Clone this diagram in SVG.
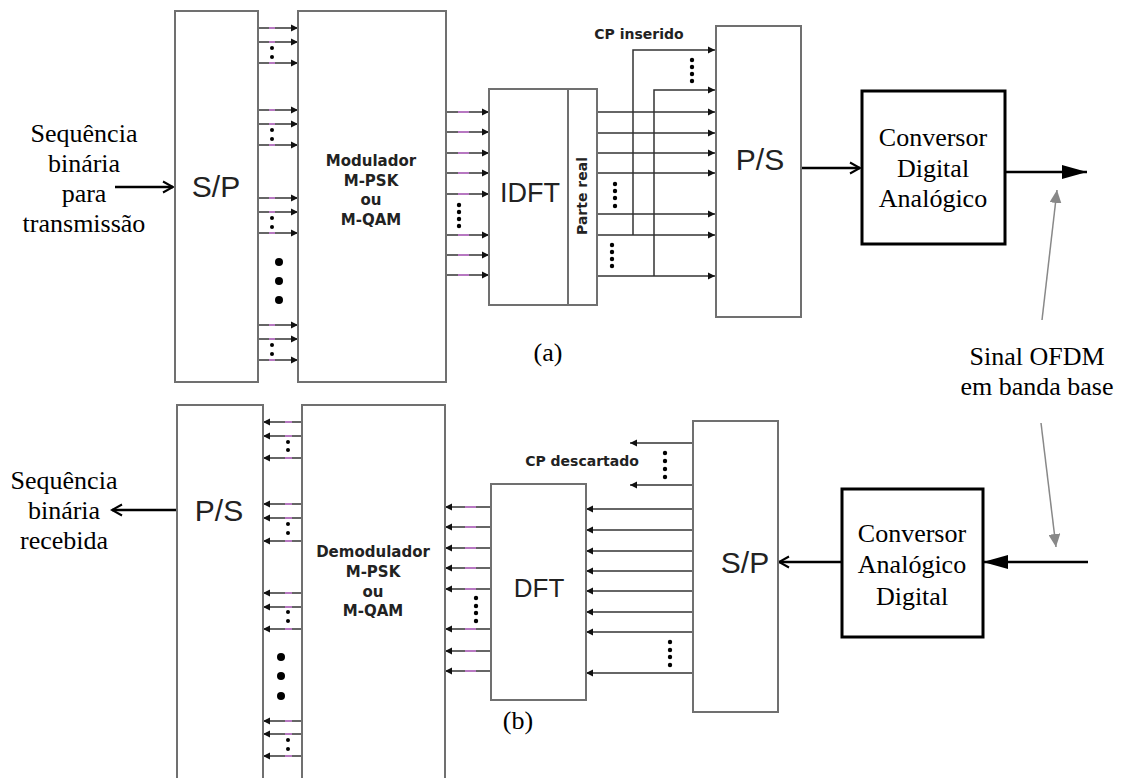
<svg xmlns="http://www.w3.org/2000/svg" width="1122" height="778" viewBox="0 0 1122 778">
<style>
.blk{fill:#fff;stroke:#707070;stroke-width:2}
.box{fill:#fff;stroke:#000;stroke-width:3}
.a{stroke:#333;stroke-width:1.5;fill:none;marker-end:url(#ah)}
.thk{stroke:#000;stroke-width:2.5;fill:none}
.pk{stroke:#d27fe0;stroke-width:1.6}
.gr{stroke:#888;stroke-width:1.5;fill:none;marker-end:url(#gah)}
.big{font-family:"Liberation Sans",Arial,sans-serif;fill:#222;text-anchor:middle}
.bd{font-family:"DejaVu Sans",Verdana,sans-serif;font-weight:bold;fill:#222;text-anchor:middle}
.tm{font-family:"Liberation Serif","Times New Roman",serif;font-size:26px;fill:#000;text-anchor:middle}
</style>
<defs>
<marker id="ah" markerUnits="userSpaceOnUse" markerWidth="8" markerHeight="8" refX="7" refY="4" orient="auto"><path d="M0,0.5 L7,4 L0,7.5 z" fill="#111"/></marker>
<marker id="gah" markerUnits="userSpaceOnUse" markerWidth="14" markerHeight="12" refX="13" refY="6" orient="auto"><path d="M0,0 L13,6 L0,12 z" fill="#888"/></marker>
<marker id="chev" markerUnits="userSpaceOnUse" markerWidth="14" markerHeight="14" refX="12" refY="7" orient="auto"><path d="M2,1.5 L12,7 L2,12.5" fill="none" stroke="#000" stroke-width="2"/></marker>
<marker id="tri" markerUnits="userSpaceOnUse" markerWidth="26" markerHeight="16" refX="25" refY="8" orient="auto"><path d="M0,1 L25,8 L0,15 z" fill="#000"/></marker>
</defs>

<g id="connectors">
<line class="thk" x1="115" y1="187" x2="173" y2="187" marker-end="url(#chev)"/>
<g>
<line class="a" x1="258" y1="28" x2="298" y2="28"/><line class="a" x1="258" y1="42" x2="298" y2="42"/><line class="a" x1="258" y1="63" x2="298" y2="63"/>
<line class="a" x1="258" y1="110" x2="298" y2="110"/><line class="a" x1="258" y1="124" x2="298" y2="124"/><line class="a" x1="258" y1="145" x2="298" y2="145"/>
<line class="a" x1="258" y1="198" x2="298" y2="198"/><line class="a" x1="258" y1="212" x2="298" y2="212"/><line class="a" x1="258" y1="233" x2="298" y2="233"/>
<line class="a" x1="258" y1="325" x2="298" y2="325"/><line class="a" x1="258" y1="339" x2="298" y2="339"/><line class="a" x1="258" y1="360" x2="298" y2="360"/>
<path class="pk" d="M269,28h6M269,42h6M269,63h6M269,110h6M269,124h6M269,145h6M269,198h6M269,212h6M269,233h6M269,325h6M269,339h6M269,360h6"/>
</g>
<g>
<line class="a" x1="446" y1="112" x2="489" y2="112"/><line class="a" x1="446" y1="132" x2="489" y2="132"/><line class="a" x1="446" y1="153" x2="489" y2="153"/><line class="a" x1="446" y1="173" x2="489" y2="173"/><line class="a" x1="446" y1="194" x2="489" y2="194"/>
<line class="a" x1="446" y1="235" x2="489" y2="235"/><line class="a" x1="446" y1="255" x2="489" y2="255"/><line class="a" x1="446" y1="275" x2="489" y2="275"/>
<path class="pk" d="M458,112h11M458,132h11M458,153h11M458,173h11M458,194h11M458,235h11M458,255h11M458,275h11"/>
</g>
<g>
<line class="a" x1="597" y1="112" x2="715" y2="112"/><line class="a" x1="597" y1="133" x2="715" y2="133"/><line class="a" x1="597" y1="153" x2="715" y2="153"/><line class="a" x1="597" y1="173" x2="715" y2="173"/>
<line class="a" x1="597" y1="214" x2="715" y2="214"/><line class="a" x1="597" y1="235" x2="715" y2="235"/><line class="a" x1="597" y1="276" x2="715" y2="276"/>
<path class="a" d="M633,235 V50 H715"/>
<path class="a" d="M654,276 V90 H715"/>
</g>
<line class="thk" x1="802" y1="168" x2="860" y2="168" marker-end="url(#chev)"/>
<line class="thk" x1="1005" y1="172" x2="1087" y2="172" marker-end="url(#tri)"/>
<line class="gr" x1="1042" y1="320" x2="1057" y2="190"/>
<line class="gr" x1="1041" y1="423" x2="1056" y2="547"/>

<line class="thk" x1="1088" y1="562" x2="983" y2="562" marker-end="url(#tri)"/>
<line class="thk" x1="842" y1="562" x2="779" y2="562" marker-end="url(#chev)"/>
<g>
<line class="a" x1="693" y1="443" x2="630" y2="443"/><line class="a" x1="693" y1="485" x2="630" y2="485"/>
<line class="a" x1="693" y1="509" x2="586" y2="509"/><line class="a" x1="693" y1="530" x2="586" y2="530"/><line class="a" x1="693" y1="551" x2="586" y2="551"/><line class="a" x1="693" y1="571" x2="586" y2="571"/><line class="a" x1="693" y1="591" x2="586" y2="591"/><line class="a" x1="693" y1="612" x2="586" y2="612"/><line class="a" x1="693" y1="632" x2="586" y2="632"/>
<line class="a" x1="693" y1="673" x2="586" y2="673"/>
</g>
<g>
<line class="a" x1="491" y1="507" x2="445" y2="507"/><line class="a" x1="491" y1="527" x2="445" y2="527"/><line class="a" x1="491" y1="548" x2="445" y2="548"/><line class="a" x1="491" y1="568" x2="445" y2="568"/><line class="a" x1="491" y1="589" x2="445" y2="589"/>
<line class="a" x1="491" y1="629" x2="445" y2="629"/><line class="a" x1="491" y1="651" x2="445" y2="651"/><line class="a" x1="491" y1="671" x2="445" y2="671"/>
<path class="pk" d="M465,507h11M465,527h11M465,548h11M465,568h11M465,589h11M465,629h11M465,651h11M465,671h11"/>
</g>
<g>
<line class="a" x1="302" y1="422" x2="263" y2="422"/><line class="a" x1="302" y1="436" x2="263" y2="436"/><line class="a" x1="302" y1="458" x2="263" y2="458"/>
<line class="a" x1="302" y1="504" x2="263" y2="504"/><line class="a" x1="302" y1="518" x2="263" y2="518"/><line class="a" x1="302" y1="541" x2="263" y2="541"/>
<line class="a" x1="302" y1="593" x2="263" y2="593"/><line class="a" x1="302" y1="607" x2="263" y2="607"/><line class="a" x1="302" y1="629" x2="263" y2="629"/>
<line class="a" x1="302" y1="721" x2="263" y2="721"/><line class="a" x1="302" y1="734" x2="263" y2="734"/><line class="a" x1="302" y1="756" x2="263" y2="756"/>
<path class="pk" d="M285,422h7M285,436h7M285,458h7M285,504h7M285,518h7M285,541h7M285,593h7M285,607h7M285,629h7M285,721h7M285,734h7M285,756h7"/>
</g>
<line class="thk" x1="176" y1="510" x2="112" y2="510" marker-end="url(#chev)"/>
</g>

<g id="dots" fill="#000">
<circle cx="272" cy="48" r="2"/><circle cx="272" cy="57" r="2"/>
<circle cx="272" cy="130" r="2"/><circle cx="272" cy="139" r="2"/>
<circle cx="272" cy="218" r="2"/><circle cx="272" cy="227" r="2"/>
<circle cx="272" cy="345" r="2"/><circle cx="272" cy="354" r="2"/>
<circle cx="279" cy="262" r="4"/><circle cx="279" cy="281" r="4"/><circle cx="279" cy="300" r="4"/>
<circle cx="459" cy="205" r="2.2"/><circle cx="459" cy="212" r="2.2"/><circle cx="459" cy="219" r="2.2"/><circle cx="459" cy="226" r="2.2"/>
<circle cx="615" cy="184" r="2.2"/><circle cx="615" cy="191" r="2.2"/><circle cx="615" cy="198" r="2.2"/><circle cx="615" cy="206" r="2.2"/>
<circle cx="612" cy="245" r="2.2"/><circle cx="612" cy="252" r="2.2"/><circle cx="612" cy="259" r="2.2"/><circle cx="612" cy="266" r="2.2"/>
<circle cx="692" cy="60" r="2.2"/><circle cx="692" cy="67" r="2.2"/><circle cx="692" cy="74" r="2.2"/><circle cx="692" cy="81" r="2.2"/>
<circle cx="665" cy="453" r="2.2"/><circle cx="665" cy="461" r="2.2"/><circle cx="665" cy="469" r="2.2"/><circle cx="665" cy="477" r="2.2"/>
<circle cx="670" cy="642" r="2.2"/><circle cx="670" cy="650" r="2.2"/><circle cx="670" cy="657" r="2.2"/><circle cx="670" cy="665" r="2.2"/>
<circle cx="476" cy="598" r="2.2"/><circle cx="476" cy="606" r="2.2"/><circle cx="476" cy="613" r="2.2"/><circle cx="476" cy="621" r="2.2"/>
<circle cx="288" cy="442" r="2"/><circle cx="288" cy="450" r="2"/>
<circle cx="288" cy="524" r="2"/><circle cx="288" cy="533" r="2"/>
<circle cx="288" cy="612" r="2"/><circle cx="288" cy="621" r="2"/>
<circle cx="288" cy="740" r="2"/><circle cx="288" cy="749" r="2"/>
<circle cx="281" cy="657" r="4"/><circle cx="281" cy="676" r="4"/><circle cx="281" cy="696" r="4"/>
</g>

<g id="tx-sp"><rect class="blk" x="175" y="11" width="83" height="371"/><text class="big" x="216" y="197" font-size="30">S/P</text></g>
<g id="tx-mod"><rect class="blk" x="298" y="11" width="148" height="371"/>
<text class="bd" font-size="15" x="371" y="166">Modulador</text><text class="bd" font-size="15" x="371" y="186">M-PSK</text><text class="bd" font-size="15" x="371" y="205">ou</text><text class="bd" font-size="15" x="371" y="225">M-QAM</text></g>
<g id="tx-idft"><rect class="blk" x="489" y="89" width="108" height="216"/><line class="blk" x1="568" y1="89" x2="568" y2="305"/>
<text class="big" x="530" y="202" font-size="27">IDFT</text>
<text class="bd" font-size="14" transform="translate(587,196) rotate(-90)">Parte real</text></g>
<g id="tx-ps"><rect class="blk" x="716" y="26" width="85" height="291"/><text class="big" x="760" y="170" font-size="30">P/S</text></g>
<g id="tx-dac"><rect class="box" x="862" y="91" width="143" height="153"/>
<text class="tm" x="933" y="146">Conversor</text><text class="tm" x="933" y="177">Digital</text><text class="tm" x="933" y="207">Analógico</text></g>

<g id="rx-ps"><rect class="blk" x="177" y="405" width="86" height="390"/><text class="big" x="219" y="521" font-size="30">P/S</text></g>
<g id="rx-demod"><rect class="blk" x="302" y="405" width="143" height="390"/>
<text class="bd" font-size="15" x="373" y="557">Demodulador</text><text class="bd" font-size="15" x="373" y="577">M-PSK</text><text class="bd" font-size="15" x="373" y="597">ou</text><text class="bd" font-size="15" x="373" y="616">M-QAM</text></g>
<g id="rx-dft"><rect class="blk" x="491" y="484" width="95" height="216"/><text class="big" x="539" y="597" font-size="26">DFT</text></g>
<g id="rx-sp"><rect class="blk" x="693" y="421" width="85" height="291"/><text class="big" x="745" y="573" font-size="30">S/P</text></g>
<g id="rx-adc"><rect class="box" x="842" y="489" width="141" height="148"/>
<text class="tm" x="912" y="542">Conversor</text><text class="tm" x="912" y="573">Analógico</text><text class="tm" x="912" y="605">Digital</text></g>

<g id="labels">
<text class="tm" x="84" y="142">Sequência</text><text class="tm" x="84" y="172">binária</text><text class="tm" x="84" y="202">para</text><text class="tm" x="84" y="232">transmissão</text>
<text class="bd" font-size="14" x="639" y="39">CP inserido</text>
<text class="bd" font-size="14" x="582" y="466">CP descartado</text>
<text class="tm" x="1037" y="365">Sinal OFDM</text><text class="tm" x="1037" y="395">em banda base</text>
<text class="tm" x="64" y="489">Sequência</text><text class="tm" x="64" y="519">binária</text><text class="tm" x="64" y="549">recebida</text>
<text class="tm" x="548" y="361">(a)</text>
<text class="tm" x="518" y="729">(b)</text>
</g>
</svg>
